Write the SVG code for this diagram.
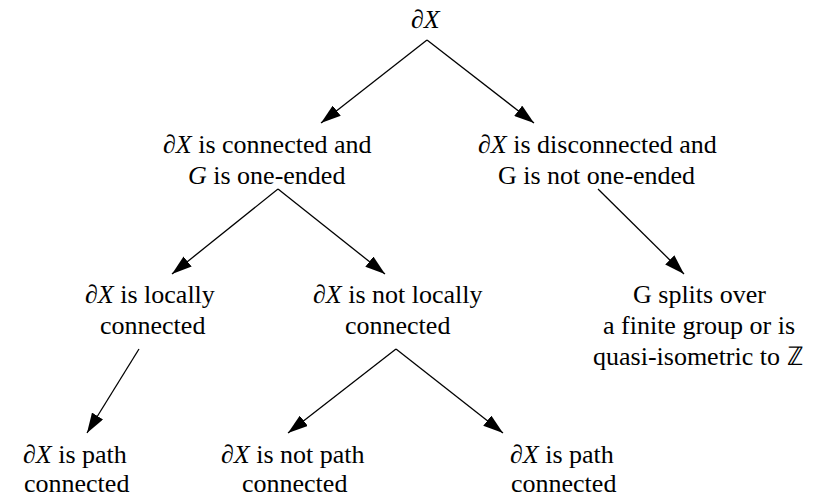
<svg xmlns="http://www.w3.org/2000/svg" width="818" height="497" viewBox="0 0 818 497">
  <defs>
    <marker id="arrow" viewBox="0 0 20 13" refX="20" refY="6.5" markerWidth="20" markerHeight="13" markerUnits="userSpaceOnUse" orient="auto">
      <path d="M0,0 L20,6.5 L0,13 z" fill="#000"/>
    </marker>
  </defs>
  <style>
    .edge { stroke: #000; stroke-width: 1.3; fill: none; marker-end: url(#arrow); }
  </style>
  <rect width="818" height="497" fill="#fff"/>

  <g id="connectors">
    <line class="edge" x1="427" y1="40" x2="321" y2="123"/>
    <line class="edge" x1="427" y1="40" x2="534" y2="123"/>
    <line class="edge" x1="278" y1="189" x2="172" y2="274"/>
    <line class="edge" x1="278" y1="189" x2="385" y2="274"/>
    <line class="edge" x1="598" y1="189" x2="684" y2="274"/>
    <line class="edge" x1="139" y1="349" x2="87" y2="433"/>
    <line class="edge" x1="396" y1="349" x2="288" y2="433"/>
    <line class="edge" x1="396" y1="349" x2="503" y2="433"/>
  </g>

  <!-- node labels: serif text, math symbols in italic; x is the left edge of each centred line -->
  <g id="root">
    <text x="411" y="28" font-family="Liberation Serif" font-size="26"><tspan font-style="italic">∂X</tspan></text>
  </g>

  <g id="connected-one-ended">
    <text x="163" y="153" font-family="Liberation Serif" font-size="26"><tspan font-style="italic">∂X</tspan> is connected and</text>
    <text x="188" y="184" font-family="Liberation Serif" font-size="26"><tspan font-style="italic">G</tspan> is one-ended</text>
  </g>

  <g id="disconnected">
    <text x="478" y="153" font-family="Liberation Serif" font-size="26"><tspan font-style="italic">∂X</tspan> is disconnected and</text>
    <text x="498" y="184" font-family="Liberation Serif" font-size="26">G is not one-ended</text>
  </g>

  <g id="locally-connected">
    <text x="85" y="303" font-family="Liberation Serif" font-size="26"><tspan font-style="italic">∂X</tspan> is locally</text>
    <text x="100" y="334" font-family="Liberation Serif" font-size="26">connected</text>
  </g>

  <g id="not-locally-connected">
    <text x="313" y="303" font-family="Liberation Serif" font-size="26"><tspan font-style="italic">∂X</tspan> is not locally</text>
    <text x="345" y="334" font-family="Liberation Serif" font-size="26">connected</text>
  </g>

  <g id="splits">
    <text x="633" y="303" font-family="Liberation Serif" font-size="26">G splits over</text>
    <text x="603" y="334" font-family="Liberation Serif" font-size="26">a finite group or is</text>
    <text x="593" y="365" font-family="Liberation Serif" font-size="26">quasi-isometric to ℤ</text>
  </g>

  <g id="path-connected-a">
    <text x="23" y="463" font-family="Liberation Serif" font-size="26"><tspan font-style="italic">∂X</tspan> is path</text>
    <text x="24" y="492" font-family="Liberation Serif" font-size="26">connected</text>
  </g>

  <g id="not-path-connected">
    <text x="221" y="463" font-family="Liberation Serif" font-size="26"><tspan font-style="italic">∂X</tspan> is not path</text>
    <text x="242" y="492" font-family="Liberation Serif" font-size="26">connected</text>
  </g>

  <g id="path-connected-b">
    <text x="510" y="463" font-family="Liberation Serif" font-size="26"><tspan font-style="italic">∂X</tspan> is path</text>
    <text x="511" y="492" font-family="Liberation Serif" font-size="26">connected</text>
  </g>
</svg>
